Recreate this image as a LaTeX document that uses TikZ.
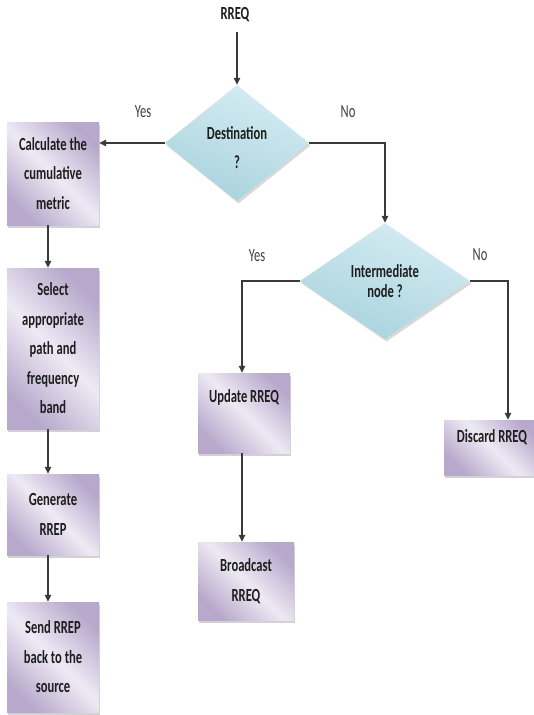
\documentclass[tikz,border=0pt]{standalone}
\usepackage{fontspec}
\setmainfont{Carlito}[FakeStretch=0.68]
\usetikzlibrary{shapes.geometric,arrows.meta,shadows}
\definecolor{boxdark}{HTML}{B8A9CC}
\definecolor{boxlight}{HTML}{EEEAF4}
\definecolor{diadark}{HTML}{A8D3DE}
\definecolor{dialight}{HTML}{D6ECF2}
\definecolor{txt}{HTML}{1E1E1E}
\definecolor{linec}{HTML}{3A3A3A}
\begin{document}
\begin{tikzpicture}[x=1pt,y=-1pt,
  boxfont/.style={font=\fontsize{18.5pt}{29.5pt}\selectfont\bfseries},
  stepbox/.style={boxfont, text=txt, align=center, inner sep=0pt,
    left color=boxdark, right color=boxdark, middle color=boxlight, shading angle=135,
    drop shadow={shadow xshift=0.5pt, shadow yshift=-3pt, opacity=0.35}},
  decision/.style={boxfont, text=txt, align=center, diamond, inner sep=0pt,
    top color=dialight, bottom color=diadark, shading angle=-20,
    drop shadow={shadow xshift=1.5pt, shadow yshift=-2.5pt, opacity=0.3}},
  lbl/.style={font=\fontsize{18.5pt}{22pt}\selectfont, text=txt!85},
  arr/.style={draw=linec, line width=1.2pt, -{Triangle[length=7pt,width=6.5pt]}}
]
\useasboundingbox (0,0) rectangle (534,715);
\fill[white] (0,0) rectangle (534,715);

% start
\node[boxfont, text=txt] (start) at (235,15) {RREQ};

% decisions
\node[decision, aspect=1.24, minimum width=144pt, minimum height=116pt, text height=52pt] (d1) at (237,143) {Destination\\?};
\node[decision, font=\fontsize{18.5pt}{20pt}\selectfont\bfseries, aspect=1.47, minimum width=170pt, minimum height=116pt] (d2) at (385,281) {Intermediate\\node ?};

% left column
\node[stepbox, minimum width=92pt, minimum height=103pt] (b1) at (53,173.5) {Calculate the\\cumulative\\metric};
\node[stepbox, minimum width=92pt, minimum height=161pt] (b2) at (53,348.5) {Select\\appropriate\\path and\\frequency\\band};
\node[stepbox, minimum width=92pt, minimum height=81pt] (b3) at (53,514.5) {Generate\\RREP};
\node[stepbox, minimum width=92pt, minimum height=110pt] (b4) at (53,657) {Send RREP\\back to the\\source};

% middle column
\node[stepbox, minimum width=92pt, minimum height=80pt, text height=14pt, text depth=36pt] (upd) at (244,413) {Update RREQ};
\node[stepbox, minimum width=96pt, minimum height=78pt] (bc) at (246,581) {Broadcast\\RREQ};

% right
\node[stepbox, minimum width=96pt, minimum height=55pt, text height=14pt, text depth=24pt] (disc) at (492,447.5) {Discard RREQ};

% labels
\node[lbl] (yes1) at (143,112) {Yes};
\node[lbl] (no1) at (348,112) {No};
\node[lbl] (yes2) at (257,256) {Yes};
\node[lbl] (no2) at (480,255) {No};

% connectors
\draw[arr] ([yshift=-6pt]start.south -| d1.north) -- (d1.north);
\draw[arr] (d1.west) -- (d1.west -| b1.east);
\draw[arr] (d1.east) -| (d2.north);
\draw[arr] ([xshift=-5pt]b1.south) -- ([xshift=-5pt]b2.north);
\draw[arr] ([xshift=-5pt]b2.south) -- ([xshift=-5pt]b3.north);
\draw[arr] ([xshift=-5pt]b3.south) -- ([xshift=-5pt]b4.north);
\draw[arr] (d2.west) -| ([xshift=-2pt]upd.north);
\draw[arr] ([xshift=-2pt]upd.south) -- ([xshift=-4pt]bc.north);
\draw[arr] (d2.east) -| ([xshift=16pt]disc.north);
\end{tikzpicture}
\end{document}
